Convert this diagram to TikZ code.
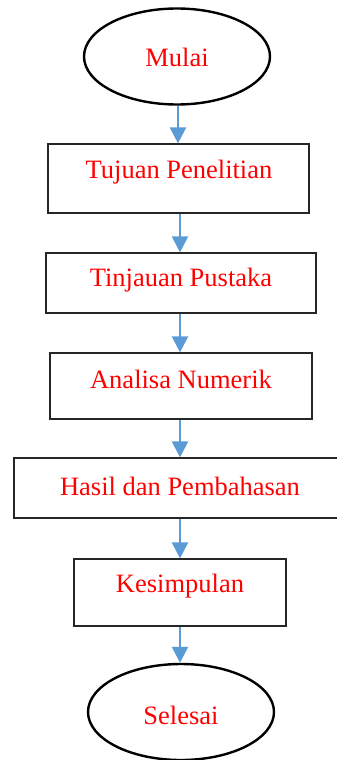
\documentclass[tikz,border=0pt]{standalone}
\usepackage{fontspec}
\setmainfont{Liberation Serif}
\usetikzlibrary{shapes.geometric,arrows.meta,calc}
\definecolor{arrblue}{HTML}{5B9BD5}
\tikzset{
  term/.style={draw=black,line width=2.4pt,ellipse,inner sep=0pt},
  stepbox/.style={draw=black!85,line width=1.2pt,rectangle,inner sep=0pt},
  txt/.style={text=red,font=\fontsize{26.5}{30}\selectfont,inner sep=0pt,anchor=center},
  arr/.style={draw=arrblue,line width=2.2pt,-{Triangle[length=16pt,width=16pt]}}
}
\begin{document}
\begin{tikzpicture}[x=1pt,y=-1pt]
\useasboundingbox (0,0) rectangle (337,760);
\node[term,minimum width=186pt,minimum height=96pt] (m) at (177,56.5) {};
\node[txt] (tm) at (177,57) {Mulai};
\node[stepbox,minimum width=261pt,minimum height=69pt] (b1) at (178.5,178.5) {};
\node[txt] (t1) at (179,172.5) {Tujuan Penelitian};
\node[stepbox,minimum width=270pt,minimum height=60pt] (b2) at (181,283) {};
\node[txt] (t2) at (181,280.5) {Tinjauan Pustaka};
\node[stepbox,minimum width=262pt,minimum height=66pt] (b3) at (181,386) {};
\node[txt] (t3) at (181,379.5) {Analisa Numerik};
\node[stepbox,minimum width=326pt,minimum height=60pt] (b4) at (177,488) {};
\node[txt] (t4) at (180,486.5) {Hasil dan Pembahasan};
\node[stepbox,minimum width=212pt,minimum height=67pt] (b5) at (180,592.5) {};
\node[txt] (t5) at (180,586.5) {Kesimpulan};
\node[term,minimum width=186pt,minimum height=96pt] (s) at (181,712) {};
\node[txt] (ts) at (181,715) {Selesai};
\coordinate (a1) at ($(m.south)+(1,0)$);
\draw[arr] (a1) -- (a1 |- b1.north);
\coordinate (a2) at (180,0);
\draw[arr] (a2 |- b1.south) -- (a2 |- b2.north);
\draw[arr] (a2 |- b2.south) -- (a2 |- b3.north);
\draw[arr] (a2 |- b3.south) -- (a2 |- b4.north);
\draw[arr] (a2 |- b4.south) -- (a2 |- b5.north);
\draw[arr] (a2 |- b5.south) -- (a2 |- s.north);
\end{tikzpicture}
\end{document}
